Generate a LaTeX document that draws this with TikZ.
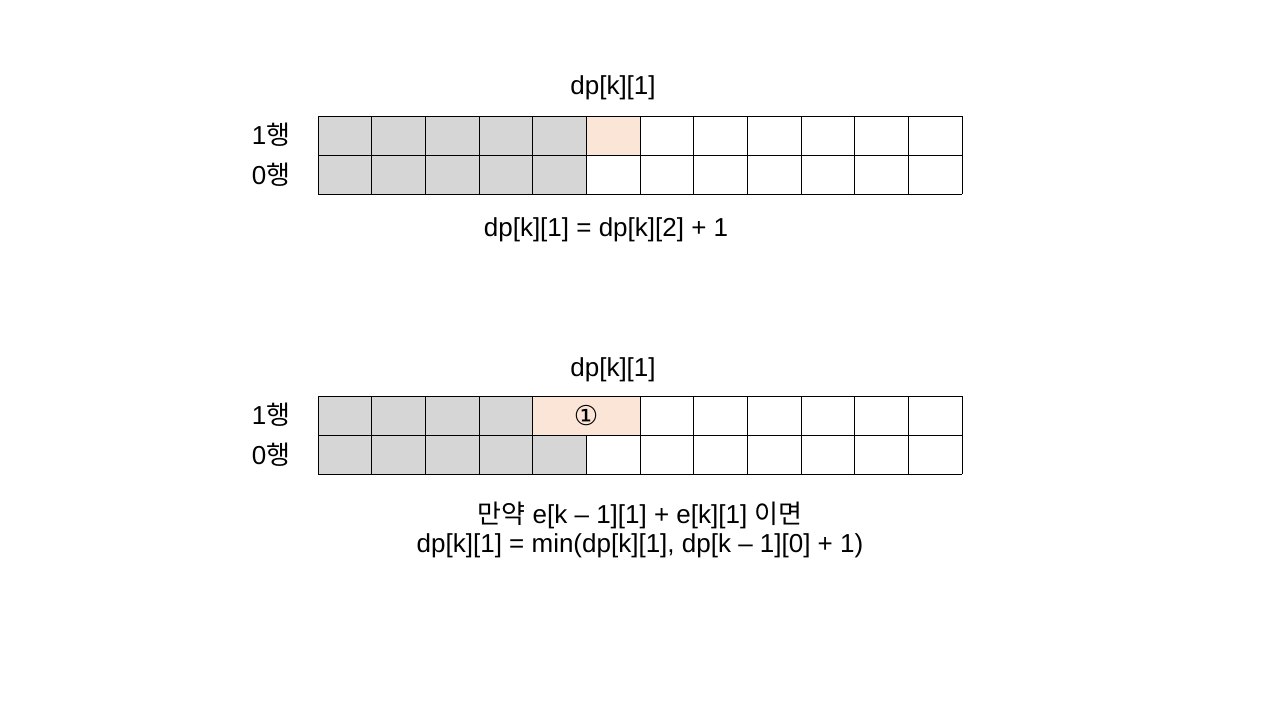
\documentclass[tikz,border=0pt]{standalone}
\usepackage{fontspec}
\setmainfont{Liberation Sans}
\newfontfamily\krfont[Scale=1.0]{Noto Sans CJK KR}
\newfontfamily\symfont[Scale=1.05]{DejaVu Sans}
\definecolor{cellgray}{RGB}{214,214,214}
\definecolor{cellpeach}{RGB}{251,229,214}
\begin{document}
\begin{tikzpicture}[x=1pt,y=-1pt,
  lbl/.style={inner sep=0pt,font=\fontsize{26}{30}\selectfont},
  gridline/.style={draw=black,line width=0.8pt}]
\useasboundingbox[fill=white] (0,0) rectangle (1280,720);
\def\cw{53.667}
% ---------- top grid ----------
\fill[cellgray] (318,116) rectangle ({318+5*\cw},194);
\fill[cellpeach] ({318+5*\cw},116) rectangle ({318+6*\cw},155);
\foreach \i in {0,...,12} \draw[gridline] ({318+\i*\cw},116) -- ({318+\i*\cw},194);
\foreach \y in {116,155,194} \draw[gridline] (318,\y) -- (962,\y);
\node[lbl] (t1) at (271,135) {1{\krfont 행}};
\node[lbl] (t0) at (271,175) {0{\krfont 행}};
\node[lbl] (ttitle) at (613,88) {dp[k][1]};
\node[lbl] (tform) at (606,230) {dp[k][1] = dp[k][2] + 1};
% ---------- bottom grid ----------
\fill[cellgray] (318,396) rectangle ({318+4*\cw},474);
\fill[cellgray] ({318+4*\cw},435) rectangle ({318+5*\cw},474);
\fill[cellpeach] ({318+4*\cw},396) rectangle ({318+6*\cw},435);
\foreach \i in {0,1,2,3,4,6,7,8,9,10,11,12} \draw[gridline] ({318+\i*\cw},396) -- ({318+\i*\cw},474);
\draw[gridline] ({318+5*\cw},435) -- ({318+5*\cw},474);
\foreach \y in {396,435,474} \draw[gridline] (318,\y) -- (962,\y);
\node[lbl] (b1) at (271,415) {1{\krfont 행}};
\node[lbl] (b0) at (271,455) {0{\krfont 행}};
\node[lbl] (btitle) at (613,370) {dp[k][1]};
\node[lbl] (bmark) at (586,416) {\symfont ①};
\node[lbl] (bcond) at (640,515) {{\krfont 만약} e[k – 1][1] + e[k][1] {\krfont 이면}};
\node[lbl] (bform) at (640,546) {dp[k][1] = min(dp[k][1], dp[k – 1][0] + 1)};
\end{tikzpicture}
\end{document}
